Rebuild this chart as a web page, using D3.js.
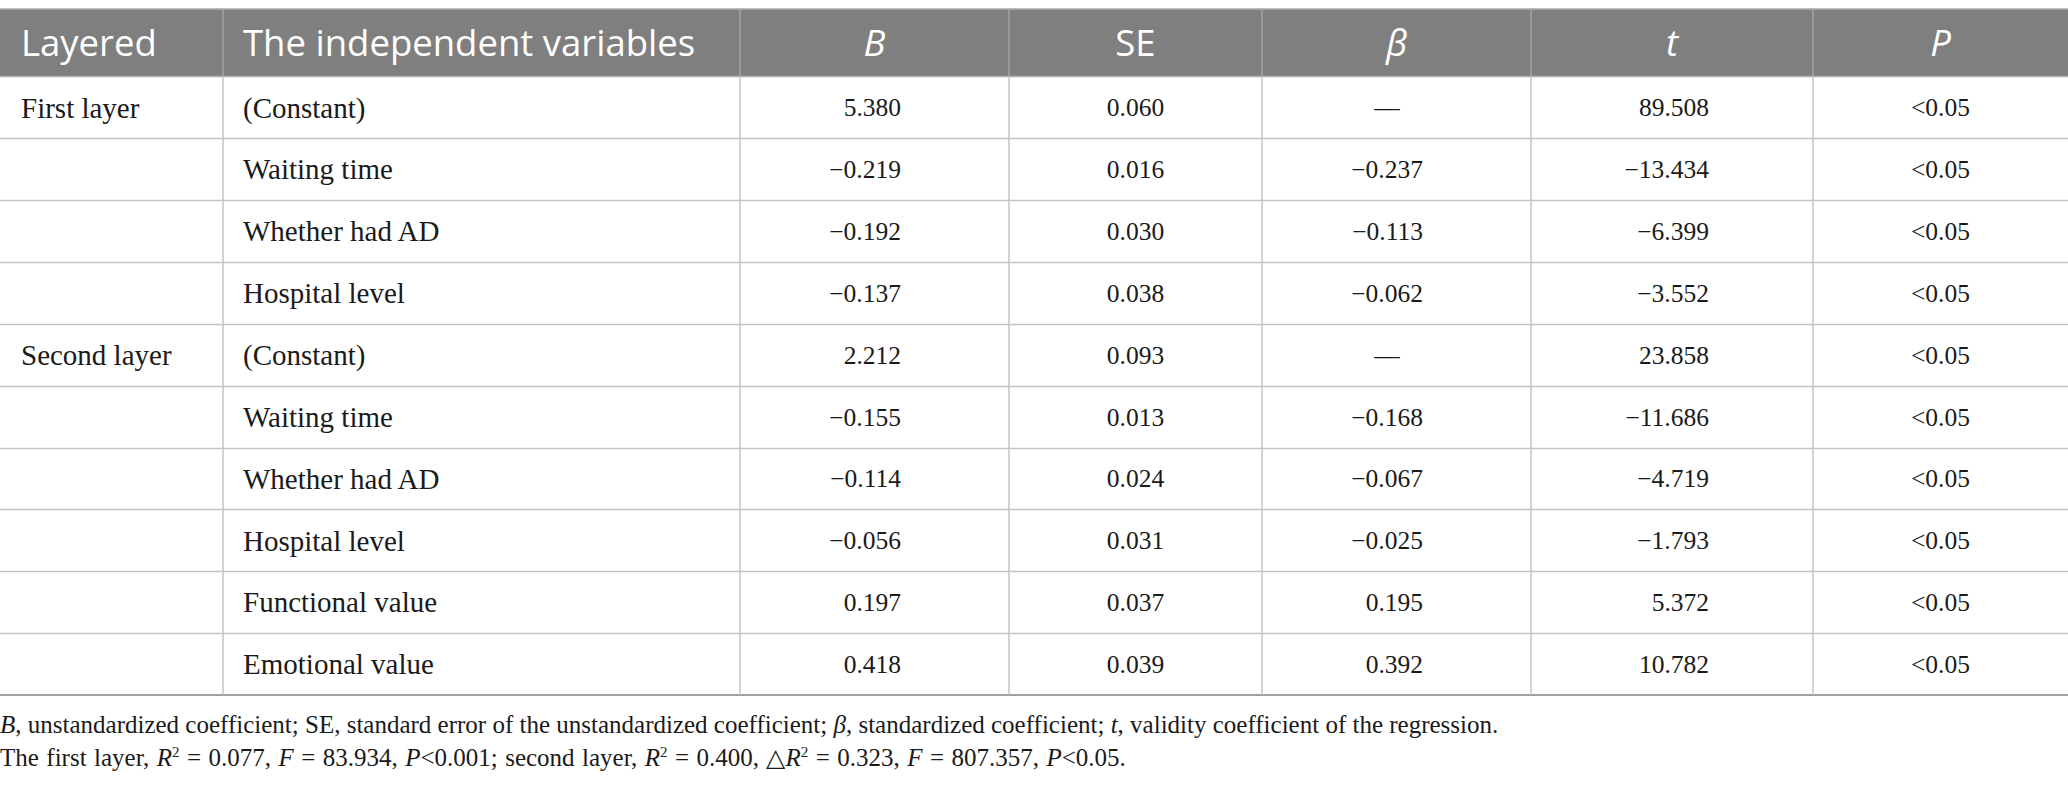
<!DOCTYPE html>
<html>
<head>
<meta charset="utf-8">
<script src="https://cdn.jsdelivr.net/npm/d3@7"></script>
<style>
  html, body { margin: 0; padding: 0; background: #fff; }
  svg { display: block; }
</style>
</head>
<body>
<svg id="chart" width="2068" height="791"></svg>
<script>
// ---- data ----
const headers = ["Layered", "The independent variables", "B", "SE", "β", "t", "P"];
const headerItalic = [false, false, true, false, true, true, true];
const layers = ["First layer", "", "", "", "Second layer", "", "", "", "", ""];
const variables = ["(Constant)", "Waiting time", "Whether had AD", "Hospital level",
  "(Constant)", "Waiting time", "Whether had AD", "Hospital level", "Functional value", "Emotional value"];
const colB = ["5.380", "−0.219", "−0.192", "−0.137", "2.212", "−0.155", "−0.114", "−0.056", "0.197", "0.418"];
const colSE = ["0.060", "0.016", "0.030", "0.038", "0.093", "0.013", "0.024", "0.031", "0.037", "0.039"];
const colBeta = ["—", "−0.237", "−0.113", "−0.062", "—", "−0.168", "−0.067", "−0.025", "0.195", "0.392"];
const colT = ["89.508", "−13.434", "−6.399", "−3.552", "23.858", "−11.686", "−4.719", "−1.793", "5.372", "10.782"];
const colP = ["<0.05", "<0.05", "<0.05", "<0.05", "<0.05", "<0.05", "<0.05", "<0.05", "<0.05", "<0.05"];

// ---- layout ----
const W = 2068;
const colEdges = [0, 223, 740, 1009, 1262, 1531, 1813, 2068];
const tableTop = 9, headerBottom = 76.5, tableBottom = 695;
const serif = "'Liberation Serif', 'Times New Roman', serif";
const sans = "'Open Sans', 'Noto Sans', sans-serif";
const numSize = 25.5, labelSize = 29;

const svg = d3.select("#chart");
const rows = d3.range(variables.length);
const y = d3.scaleBand().domain(rows).range([headerBottom, tableBottom]);
const x = d3.scaleOrdinal().domain(d3.range(headers.length)).range(colEdges.slice(0, -1));
const colW = i => colEdges[i + 1] - colEdges[i];

// header background
svg.append("rect").attr("x", 0).attr("y", tableTop).attr("width", W)
  .attr("height", headerBottom - tableTop).attr("fill", "#7f7f7f");

// grid lines (horizontal)
svg.append("g").selectAll("line").data(rows.slice(1)).join("line")
  .attr("x1", 0).attr("x2", W)
  .attr("y1", d => Math.round(y(d)) + 0.5).attr("y2", d => Math.round(y(d)) + 0.5)
  .attr("stroke", "#c4c4c4").attr("stroke-width", 1.5);
svg.append("line").attr("x1", 0).attr("x2", W)
  .attr("y1", headerBottom).attr("y2", headerBottom)
  .attr("stroke", "#b0b0b0").attr("stroke-width", 1.5);
svg.append("line").attr("x1", 0).attr("x2", W)
  .attr("y1", tableTop).attr("y2", tableTop)
  .attr("stroke", "#a8a8a8").attr("stroke-width", 1.5);
svg.append("line").attr("x1", 0).attr("x2", W)
  .attr("y1", tableBottom).attr("y2", tableBottom)
  .attr("stroke", "#a0a0a0").attr("stroke-width", 2);

// vertical lines
svg.append("g").selectAll("line").data(colEdges.slice(1, -1)).join("line")
  .attr("x1", d => d).attr("x2", d => d)
  .attr("y1", headerBottom).attr("y2", tableBottom)
  .attr("stroke", "#c4c4c4").attr("stroke-width", 1.5);
svg.append("g").selectAll("line").data(colEdges.slice(1, -1)).join("line")
  .attr("x1", d => d).attr("x2", d => d)
  .attr("y1", tableTop).attr("y2", headerBottom)
  .attr("stroke", "#a3a3a3").attr("stroke-width", 1.5);

// header texts
const hy = (tableTop + headerBottom) / 2;
svg.append("g").selectAll("text").data(headers).join("text")
  .attr("x", (d, i) => i < 2 ? x(i) + (i === 0 ? 21 : 20) : x(i) + colW(i) / 2)
  .attr("y", hy)
  .attr("dy", "0.36em")
  .attr("text-anchor", (d, i) => i < 2 ? "start" : "middle")
  .attr("font-family", sans)
  .attr("font-size", 36.5)
  .attr("font-style", (d, i) => headerItalic[i] ? "italic" : "normal")
  .attr("fill", "#fff")
  .text(d => d);

// body cells
const body = svg.append("g").attr("font-family", serif).attr("fill", "#1a1a1a");
const rowY = i => y(i) + y.bandwidth() / 2;

function textCol(arr, xpos, anchor, size) {
  body.append("g").attr("font-size", size).selectAll("text").data(arr).join("text")
    .attr("x", xpos).attr("y", (d, i) => rowY(i)).attr("dy", "0.35em")
    .attr("text-anchor", anchor).text(d => d);
}
textCol(layers, x(0) + 21, "start", labelSize);
textCol(variables, x(1) + 20, "start", labelSize);
textCol(colB, colEdges[3] - 108, "end", numSize);
textCol(colSE, x(3) + colW(3) / 2, "middle", numSize);
body.append("g").attr("font-size", numSize).selectAll("text").data(colBeta).join("text")
  .attr("x", d => d === "—" ? colEdges[5] - 144 : colEdges[5] - 108)
  .attr("y", (d, i) => rowY(i)).attr("dy", "0.35em")
  .attr("text-anchor", d => d === "—" ? "middle" : "end").text(d => d);
textCol(colT, colEdges[6] - 104, "end", numSize);
textCol(colP, x(6) + colW(6) / 2, "middle", numSize);

// footnotes
const foot = svg.append("g").attr("font-family", serif).attr("font-size", 25).attr("fill", "#1a1a1a");
const note1 = [
  ["B", true], [", unstandardized coefficient; SE, standard error of the unstandardized coefficient; ", false],
  ["β", true], [", standardized coefficient; ", false], ["t", true], [", validity coefficient of the regression.", false]
];
const t1 = foot.append("text").attr("x", 0).attr("y", 733);
note1.forEach(([s, it]) => t1.append("tspan").attr("font-style", it ? "italic" : "normal").text(s));

const t2 = foot.append("text").attr("x", 0).attr("y", 766).attr("word-spacing", 1.2);
const sp = "\u00A0";
const note2 = [
  ["The first layer, ", "n"], ["R", "i"], ["2", "sup"], [sp + "=" + sp + "0.077, ", "n"], ["F", "i"], [sp + "=" + sp + "83.934, ", "n"],
  ["P", "i"], ["<0.001; second layer, ", "n"], ["R", "i"], ["2", "sup"], [sp + "=" + sp + "0.400, ", "n"],
  ["△", "n"], ["R", "i"], ["2", "sup"], [sp + "=" + sp + "0.323, ", "n"], ["F", "i"], [sp + "=" + sp + "807.357, ", "n"],
  ["P", "i"], ["<0.05.", "n"]
];
let prevSup = false;
note2.forEach(([s, k]) => {
  const ts = t2.append("tspan").text(s);
  if (k === "i") ts.attr("font-style", "italic");
  if (k === "sup") { ts.attr("dy", -9).attr("font-size", 15); prevSup = true; }
  else if (prevSup) { ts.attr("dy", 9); prevSup = false; }
});
</script>
</body>
</html>
